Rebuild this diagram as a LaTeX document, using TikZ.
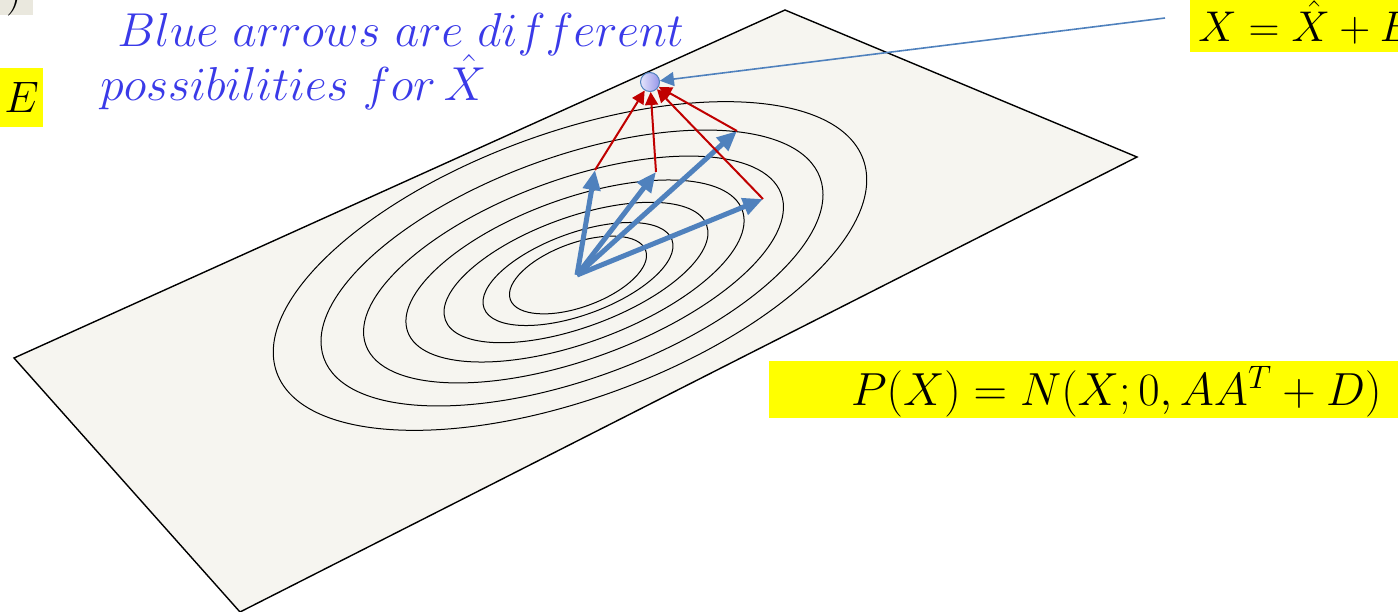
\RequirePackage{fix-cm}
\documentclass[tikz,border=0pt]{standalone}
\usepackage{amsmath}
\usetikzlibrary{arrows.meta}
\definecolor{planefill}{RGB}{246,245,240}
\definecolor{arrowblue}{RGB}{79,129,189}
\definecolor{darkred}{RGB}{192,0,0}
\definecolor{textblue}{RGB}{58,58,232}
\definecolor{hiyellow}{RGB}{255,255,0}
\definecolor{fraggray}{RGB}{234,232,222}
\definecolor{ballA}{RGB}{228,228,252}
\definecolor{ballB}{RGB}{150,150,232}

\begin{document}
\begin{tikzpicture}[x=0.5pt, y=-0.5pt,
  plane/.style={line width=0.7pt, fill=planefill},
  contour/.style={line width=0.5pt},
  bigarrow/.style={arrowblue, line width=2.5pt, -{Triangle[length=10pt, width=8.5pt]}},
  redarrow/.style={darkred, line width=1pt, -{Triangle[length=6.5pt, width=6.5pt]}},
  thinarrow/.style={arrowblue, line width=0.8pt, -{Triangle[length=7pt, width=7pt]}},
  bluetext/.style={text=textblue, font=\fontsize{23.8}{28}\selectfont, inner sep=0, anchor=base west},
  formula/.style={font=\fontsize{23.2}{28}\selectfont, inner sep=0},
  hilite/.style={fill=hiyellow}]
  \useasboundingbox (0,0) rectangle (1398,611);
  \clip (0,0) rectangle (1398,611);
  % Plane
  \draw[plane] (14,358) -- (785,10) -- (1137,157) -- (240,612) -- cycle;
  % Contours
  \foreach \cx/\cy/\ra/\rb in {578/275/72/32, 578/274/100/41, 576/272.5/139/55,
      575/271/178/72, 573.5/269.5/221/90, 572/268/264/111, 570/266/312/133}
    \draw[contour, rotate around={20:(\cx,\cy)}] (\cx,\cy) ellipse [x radius=\ra, y radius=\rb];
  % Highlights
  \fill[fraggray] (0,0) rectangle (33,15);
  \node[formula, anchor=base] (frag) at (14,4) {$)$};
  \node[hilite, formula, font=\fontsize{22}{26}\selectfont, minimum width=21.5pt, minimum height=29.5pt] (ebox) at (21.5,97.5) {$E$};
  \fill[hilite] (1190,0) rectangle (1398,52);
  \node[formula, font=\fontsize{21.5}{26}\selectfont, anchor=base west] (xform) at (1198,41) {$X = \hat{X} + E$};
  \fill[hilite] (769,361) rectangle (1398,418);
  \node[formula, anchor=base east] (pform) at (1382,405) {$P(X) = N(X;0,AA^T+D)$};
  % Labels
  \node[bluetext] (lab1) at (117,46) {$Blue\ arrows\ are\ different$};
  \node[bluetext] (lab2) at (100,100) {$possibilities\ for\,\hat{X}$};
  % Point X hat
  \node[circle, draw=arrowblue, line width=0.5pt, minimum size=9.5pt, inner sep=0,
    left color=ballA, right color=ballB] (xhat) at (650,82) {};
  % Arrows
  \coordinate (orig) at (577,275);
  \coordinate (t1) at (595,170);
  \coordinate (t2) at (656,172);
  \coordinate (t3) at (737,131);
  \coordinate (t4) at (763,199);
  \coordinate (lead) at (1165,18);
  \foreach \t in {t1,t2,t3,t4}
    \draw[bigarrow] (orig) -- (\t);
  \foreach \t in {t1,t2,t3,t4}
    \draw[redarrow] (\t) -- (xhat);
  \draw[thinarrow] (lead) -- (xhat);
\end{tikzpicture}
\end{document}
